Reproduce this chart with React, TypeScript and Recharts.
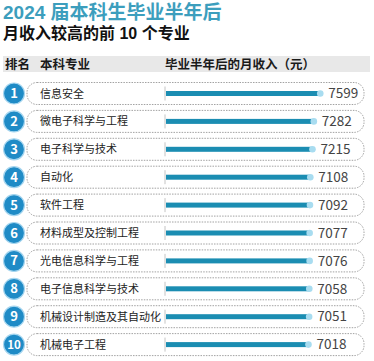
import React from 'react';
import { BarChart, Bar, XAxis, YAxis, LabelList } from 'recharts';

const ranks = [1, 2, 3, 4, 5, 6, 7, 8, 9, 10];
const majors = [
  '信息安全',
  '微电子科学与工程',
  '电子科学与技术',
  '自动化',
  '软件工程',
  '材料成型及控制工程',
  '光电信息科学与工程',
  '电子信息科学与技术',
  '机械设计制造及其自动化',
  '机械电子工程',
];
const incomes = [7599, 7282, 7215, 7108, 7092, 7077, 7076, 7058, 7051, 7018];
const headerLabels = ['排名', '本科专业', '毕业半年后的月收入（元）'];
const titleText = '2024 届本科生毕业半年后';
const subtitleText = '月收入较高的前 10 个专业';

const data = majors.map((name, i) => ({ rank: ranks[i], name, income: incomes[i] }));

const FONT = '"Noto Sans CJK SC", "Noto Sans", sans-serif';
const HFONT = '"Liberation Sans", "Noto Sans CJK SC", sans-serif';

const RowBackground = (props: any) => {
  const { y, height, payload } = props;
  const cy = y + height / 2;
  return (
    <g>
      <rect x={27} y={cy - 11} width={337} height={22} rx={10} ry={10} fill="#ffffff" stroke="#8a8a8a" strokeWidth={0.8} strokeDasharray="1.5 1.2" />
      <line x1={165} x2={165} y1={cy - 7} y2={cy + 7} stroke="#b5b5b5" strokeWidth={0.8} />
      <circle cx={14} cy={cy} r={10.5} fill="#1f8bc6" stroke="#a7d6ef" strokeWidth={1.2} />
      <text x={14} y={cy + 4.5} textAnchor="middle" fill="#ffffff" fontSize={payload.rank >= 10 ? 11.5 : 13} fontWeight={700} fontFamily={FONT}>
        {payload.rank}
      </text>
      <text x={40} y={cy + 4} fill="#222222" fontSize={11} fontFamily={FONT}>
        {payload.name}
      </text>
    </g>
  );
};

const BarShape = (props: any) => {
  const { x, y, width, height } = props;
  const cy = y + height / 2;
  return (
    <g>
      <rect x={x} y={y} width={width} height={height} fill="#1b8db2" />
      <circle cx={x + width} cy={cy} r={3.3} fill="#a8dcf0" />
    </g>
  );
};

export default function App() {
  return (
    <div style={{ position: 'absolute', left: 0, top: 0, width: 374, height: 361, background: '#fff', fontFamily: FONT }}>
      <div style={{ position: 'absolute', left: 3, top: 2, fontSize: 19, lineHeight: '21px', fontWeight: 600, color: '#3c9ebd', whiteSpace: 'nowrap', fontFamily: HFONT }}>
        {titleText}
      </div>
      <div style={{ position: 'absolute', left: 3, top: 25, fontSize: 16, lineHeight: '18px', fontWeight: 700, color: '#111', whiteSpace: 'nowrap', fontFamily: HFONT }}>
        {subtitleText}
      </div>
      <div style={{ position: 'absolute', left: 3, top: 56, width: 367, height: 16, background: '#e8e8e8' }} />
      <div style={{ position: 'absolute', left: 5, top: 56, fontSize: 12.5, lineHeight: '16px', fontWeight: 600, color: '#1a1a1a', whiteSpace: 'nowrap' }}>{headerLabels[0]}</div>
      <div style={{ position: 'absolute', left: 40, top: 56, fontSize: 12.5, lineHeight: '16px', fontWeight: 600, color: '#1a1a1a', whiteSpace: 'nowrap' }}>{headerLabels[1]}</div>
      <div style={{ position: 'absolute', left: 165, top: 56, fontSize: 12.5, lineHeight: '16px', fontWeight: 600, color: '#1a1a1a', whiteSpace: 'nowrap' }}>{headerLabels[2]}</div>
      <div style={{ position: 'absolute', left: 0, top: 0 }}>
        <BarChart width={374} height={361} layout="vertical" data={data} margin={{ top: 80, right: 5, bottom: 2, left: 166 }}>
          <XAxis type="number" domain={[0, 10000]} hide />
          <YAxis type="category" dataKey="name" hide />
          <Bar dataKey="income" barSize={5} isAnimationActive={false} background={<RowBackground />} shape={<BarShape />}>
            <LabelList dataKey="income" position="right" offset={8} fill="#444" fontSize={13.5} fontFamily={FONT} />
          </Bar>
        </BarChart>
      </div>
    </div>
  );
}
